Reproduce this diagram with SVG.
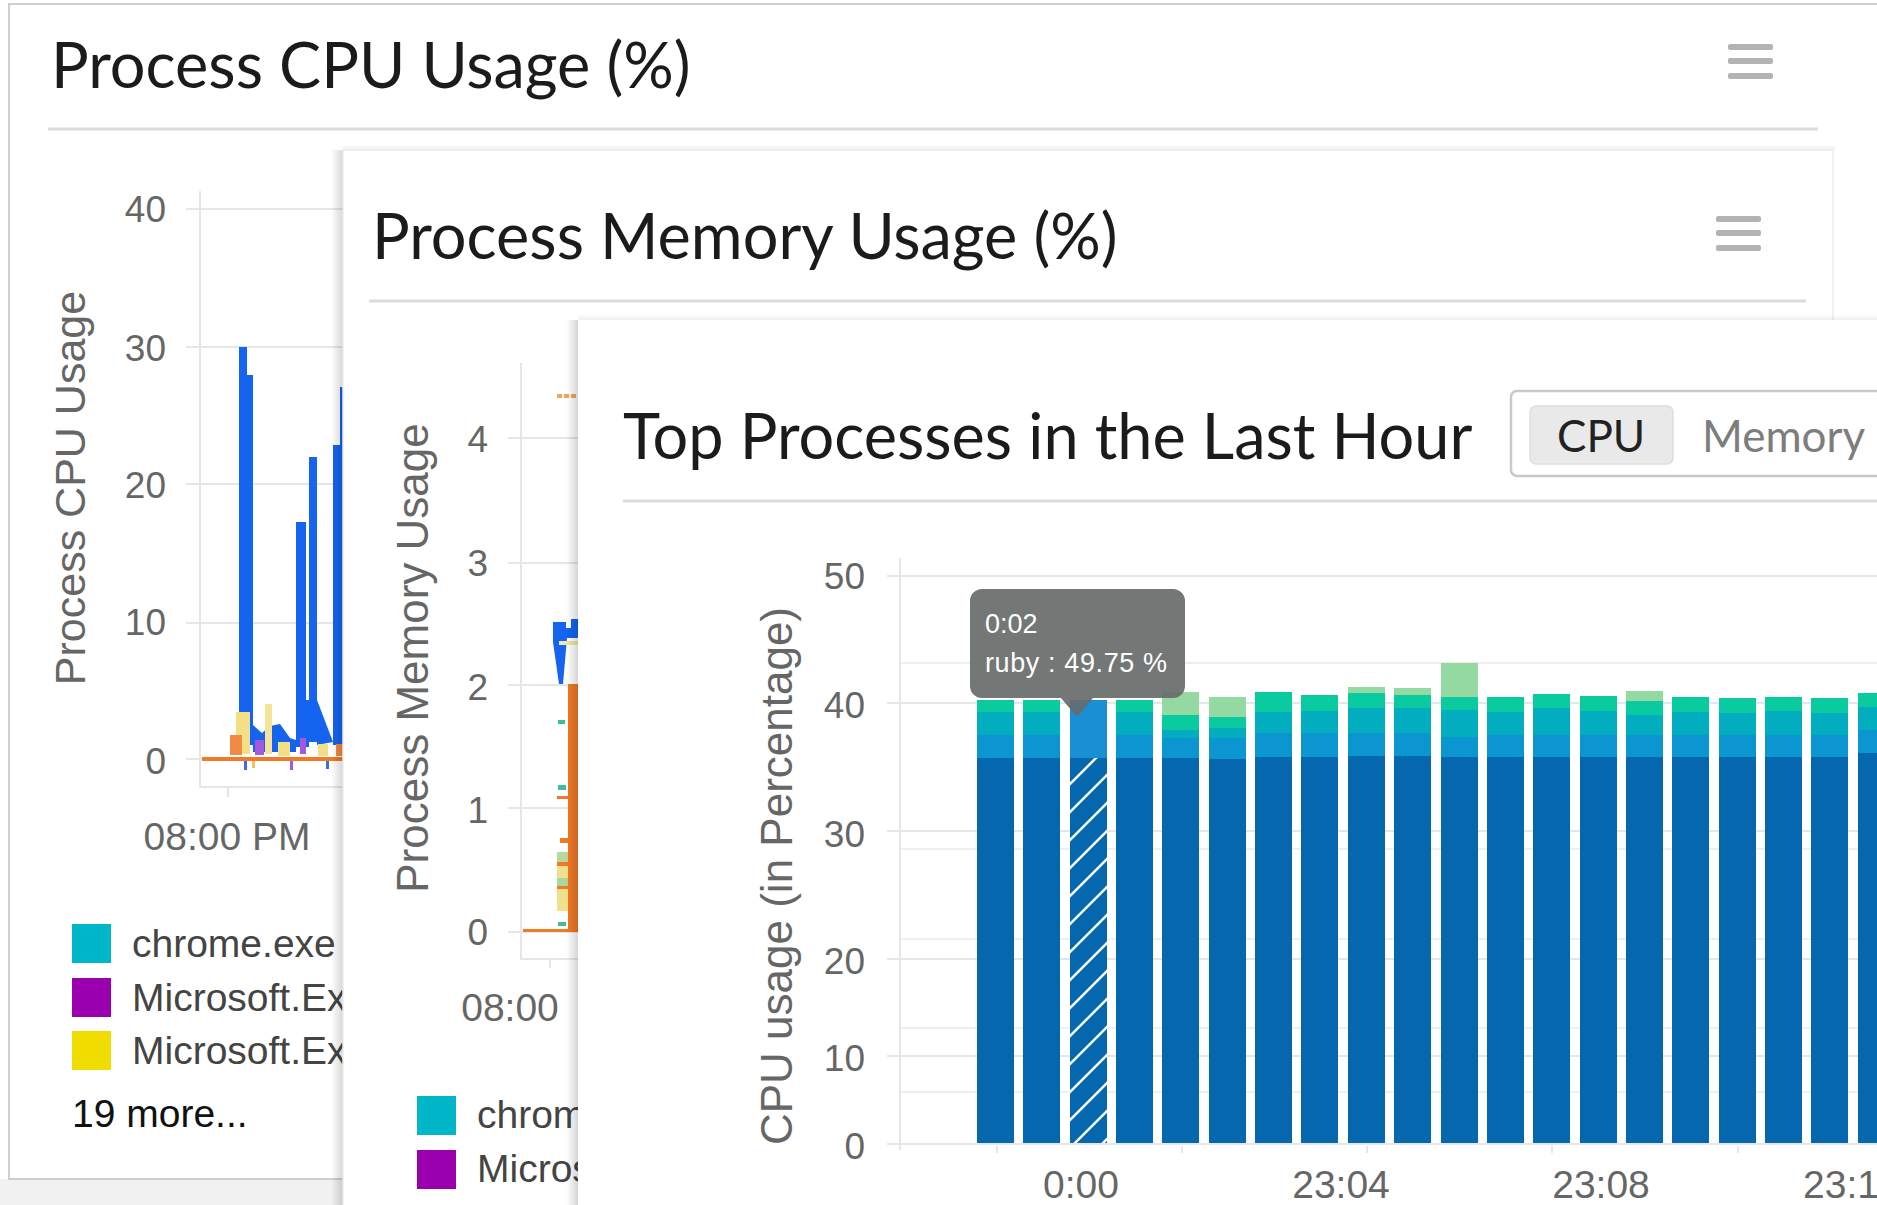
<svg xmlns="http://www.w3.org/2000/svg" width="1877" height="1205" viewBox="0 0 1877 1205">
<style>
.title{font-family:Lato,"Open Sans","Liberation Sans",sans-serif;font-size:63px;fill:#1b1b1b}
.ax{font-family:"Liberation Sans",Arial,sans-serif;font-size:37px;fill:#666}
.axt{font-family:"Liberation Sans",Arial,sans-serif;fill:#666}
.xl{font-family:"Liberation Sans",Arial,sans-serif;font-size:39px;fill:#666;text-anchor:middle}
.leg{font-family:"Liberation Sans",Arial,sans-serif;font-size:39px;fill:#444}
.grid{stroke:#e6e6e6;stroke-width:2;fill:none}
.faint{stroke:#efefef;stroke-width:2;fill:none}
.div{stroke:#dcdcdc;stroke-width:3}
.ham{fill:#b3b3b3}
.blue{fill:#1464f0}
.or{fill:#f07a26}
.dk{fill:#0567ad}
.md{fill:#0b95d1}
.tl{fill:#03adc0}
.gr{fill:#0acb9f}
.lg{fill:#95d9a2}
</style>
<defs>
<linearGradient id="shL" x1="0" y1="0" x2="1" y2="0">
<stop offset="0" stop-color="#000" stop-opacity="0"/>
<stop offset="1" stop-color="#000" stop-opacity="0.16"/>
</linearGradient>
<linearGradient id="shT" x1="0" y1="0" x2="0" y2="1">
<stop offset="0" stop-color="#000" stop-opacity="0"/>
<stop offset="1" stop-color="#000" stop-opacity="0.06"/>
</linearGradient>
<pattern id="hatch" patternUnits="userSpaceOnUse" x="1070" y="0" width="28" height="28">
<rect width="28" height="28" fill="#0567ad"/>
<path d="M0,28 L28,0 M-7,7 L7,-7 M21,35 L35,21" stroke="#ffffff" stroke-width="2.5"/>
</pattern>
</defs>

<rect width="1877" height="1205" fill="#ffffff"/>
<rect x="0" y="1179" width="343" height="26" fill="#f1f1f1"/>

<!-- Panel 1 -->
<g id="panel-cpu">
<rect x="9" y="4" width="1890" height="1175" fill="#fff" stroke="#cfcfcf" stroke-width="2"/>
<text class="title" x="51" y="88">Process CPU Usage (%)</text>
<g id="menu-cpu">
<rect class="ham" x="1728" y="44" width="45" height="6" rx="2"/>
<rect class="ham" x="1728" y="58" width="45" height="6" rx="2"/>
<rect class="ham" x="1728" y="73" width="45" height="6" rx="2"/>
</g>
<line class="div" x1="48" y1="129" x2="1818" y2="129"/>
<g id="cpu-chart">
<path class="grid" d="M186,209H1830M186,347H1830M186,484H1830M186,623H1830M186,759H1830"/>
<path class="grid" d="M200,191V787H343M228,787V797"/>
<g class="ax" text-anchor="end">
<text x="166" y="222">40</text>
<text x="166" y="361">30</text>
<text x="166" y="498">20</text>
<text x="166" y="635">10</text>
<text x="166" y="774">0</text>
</g>
<text class="axt" font-size="43" transform="translate(85,488) rotate(-90)" text-anchor="middle">Process CPU Usage</text>
<text class="xl" x="227" y="850" font-size="44">08:00 PM</text>
<g id="cpu-data">
<rect class="blue" x="239" y="347" width="8" height="400"/>
<rect class="blue" x="246" y="375" width="7" height="370"/>
<polygon class="blue" points="253,725 262,733 270,726 280,724 290,738 296,740 296,752 253,752"/>
<rect class="blue" x="296" y="522" width="10" height="225"/>
<rect class="blue" x="306" y="700" width="3" height="47"/>
<rect class="blue" x="309" y="457" width="8" height="285"/>
<polygon class="blue" points="317,700 333,742 317,745"/>
<rect class="blue" x="333" y="445" width="7" height="300"/>
<rect class="blue" x="340" y="387" width="3" height="360"/>
<rect x="236" y="712" width="14" height="42" fill="#f3df86"/>
<rect x="265" y="704" width="7" height="50" fill="#f5e39a"/>
<rect x="230" y="735" width="12" height="20" fill="#f08a45"/>
<rect x="255" y="740" width="9" height="15" fill="#a259dc"/>
<rect x="278" y="742" width="12" height="14" fill="#f3df86"/>
<rect x="300" y="738" width="6" height="16" fill="#a259dc"/>
<rect x="318" y="744" width="10" height="12" fill="#f3df86"/>
<rect x="336" y="744" width="7" height="12" fill="#f08a45"/>
<rect class="or" x="202" y="757" width="141" height="4"/>
<rect x="244" y="761" width="3" height="9" fill="#3a6fe0"/>
<rect x="252" y="761" width="3" height="7" fill="#f3c060"/>
<rect x="290" y="761" width="3" height="9" fill="#a259dc"/>
<rect x="326" y="761" width="3" height="8" fill="#3a6fe0"/>
</g>
<g id="cpu-legend">
<rect x="72" y="924" width="39" height="39" fill="#00b6c9"/>
<rect x="72" y="978" width="39" height="39" fill="#9a00ad"/>
<rect x="72" y="1031" width="39" height="39" fill="#f1dc00"/>
<text class="leg" x="132" y="957">chrome.exe</text>
<text class="leg" x="132" y="1011">Microsoft.Ex</text>
<text class="leg" x="132" y="1064">Microsoft.Ex</text>
<text class="leg" x="72" y="1127" style="fill:#111">19 more...</text>
</g>
</g>
</g>

<!-- Panel 2 -->
<g id="panel-memory">
<rect x="331" y="150" width="12" height="1055" fill="url(#shL)"/>
<rect x="343" y="144" width="1492" height="6" fill="url(#shT)"/>
<rect x="343" y="150" width="1490" height="1060" fill="#fff" stroke="#ececec" stroke-width="1.5"/>
<text class="title" x="372" y="259">Process Memory Usage (%)</text>
<g id="menu-memory">
<rect class="ham" x="1716" y="216" width="45" height="6" rx="2"/>
<rect class="ham" x="1716" y="230" width="45" height="6" rx="2"/>
<rect class="ham" x="1716" y="245" width="45" height="6" rx="2"/>
</g>
<line class="div" x1="369" y1="301" x2="1806" y2="301"/>
<g id="memory-chart">
<path class="grid" d="M508,438H1800M508,563H1800M508,685H1800M508,808H1800M508,932H1800"/>
<path class="grid" d="M521,363V959H578M550,959V968"/>
<g class="ax" text-anchor="end">
<text x="488" y="452">4</text>
<text x="488" y="576">3</text>
<text x="488" y="700">2</text>
<text x="488" y="823">1</text>
<text x="488" y="945">0</text>
</g>
<text class="axt" font-size="44" transform="translate(428,658) rotate(-90)" text-anchor="middle">Process Memory Usage</text>
<text class="xl" x="510" y="1021" font-size="45">08:00</text>
<g id="memory-data">
<line x1="557" y1="396" x2="579" y2="396" stroke="#f5a35e" stroke-width="4" stroke-dasharray="5,2"/>
<polygon class="blue" points="553,622 566,622 566,628 571,628 571,619 578,619 578,638 567,638 563,684 559,684 553,642"/>
<rect x="559" y="641" width="19" height="4" fill="#f1e6a6"/>
<rect class="or" x="568" y="684" width="10" height="247"/>
<rect x="558" y="720" width="7" height="4" fill="#3cbf9a"/>
<rect x="558" y="785" width="8" height="5" fill="#3cbf9a"/>
<rect class="or" x="557" y="796" width="21" height="3"/>
<rect class="or" x="560" y="838" width="18" height="5"/>
<rect x="557" y="852" width="11" height="10" fill="#b9d7a0"/>
<rect class="or" x="557" y="862" width="21" height="4"/>
<rect x="557" y="866" width="11" height="12" fill="#f1e18a"/>
<rect x="557" y="878" width="11" height="8" fill="#a8d8a0"/>
<rect class="or" x="557" y="886" width="21" height="3"/>
<rect x="557" y="889" width="11" height="22" fill="#f1e18a"/>
<rect x="558" y="922" width="8" height="4" fill="#3cbf9a"/>
<rect class="or" x="523" y="929" width="55" height="3"/>
</g>
<g id="memory-legend">
<rect x="417" y="1096" width="39" height="39" fill="#00b6c9"/>
<rect x="417" y="1150" width="39" height="39" fill="#9a00ad"/>
<text class="leg" x="477" y="1128">chrom</text>
<text class="leg" x="477" y="1182">Micros</text>
</g>
</g>
</g>

<!-- Panel 3 -->
<g id="panel-top">
<rect x="566" y="320" width="12" height="885" fill="url(#shL)"/>
<rect x="578" y="314" width="1300" height="6" fill="url(#shT)"/>
<rect x="578" y="320" width="1310" height="900" fill="#fff"/>
<text class="title" x="623" y="459">Top Processes in the Last Hour</text>
<g id="toggle">
<rect x="1511" y="391" width="380" height="85" rx="6" fill="#fff" stroke="#c9c9c9" stroke-width="2.5"/>
<rect x="1530" y="406" width="143" height="58" rx="6" fill="#e9e9e9" stroke="#dedede" stroke-width="1.5"/>
<text x="1557" y="452" font-family="Lato,'Open Sans',sans-serif" font-size="44" fill="#222">CPU</text>
<text x="1702" y="452" font-family="Lato,'Open Sans',sans-serif" font-size="44" fill="#7d7d7d">Memory</text>
</g>
<line class="div" x1="623" y1="501" x2="1877" y2="501"/>
<g id="top-chart">
<path class="grid" d="M887,576H1877M887,703H1877M887,831H1877M887,959H1877M887,1056H1877M887,1144H1877"/>
<path class="faint" d="M900,663H1877M900,849H1877M900,939H1877M900,1028H1877M900,1092H1877"/>
<path class="grid" d="M900,558V1150M997,1146V1153M1182,1146V1153M1367,1146V1153M1552,1146V1153M1738,1146V1153"/>
<g class="ax" text-anchor="end">
<text x="865" y="589">50</text>
<text x="865" y="718">40</text>
<text x="865" y="847">30</text>
<text x="865" y="974">20</text>
<text x="865" y="1071">10</text>
<text x="865" y="1159">0</text>
</g>
<text class="axt" font-size="44" transform="translate(792,876) rotate(-90)" text-anchor="middle">CPU usage (in Percentage)</text>
<g id="bars">
<rect class="gr" x="977" y="700" width="37" height="12"/><rect class="tl" x="977" y="712" width="37" height="23"/><rect class="md" x="977" y="735" width="37" height="23"/><rect class="dk" x="977" y="758" width="37" height="385"/>
<rect class="gr" x="1023" y="700" width="37" height="12"/><rect class="tl" x="1023" y="712" width="37" height="23"/><rect class="md" x="1023" y="735" width="37" height="23"/><rect class="dk" x="1023" y="758" width="37" height="385"/>
<rect x="1070" y="700" width="37" height="58" fill="#1a8fd4"/><rect x="1070" y="758" width="37" height="385" fill="url(#hatch)"/>
<rect class="gr" x="1116" y="700" width="37" height="12"/><rect class="tl" x="1116" y="712" width="37" height="23"/><rect class="md" x="1116" y="735" width="37" height="23"/><rect class="dk" x="1116" y="758" width="37" height="385"/>
<rect class="lg" x="1162" y="692" width="37" height="23"/><rect class="gr" x="1162" y="715" width="37" height="15"/><rect class="tl" x="1162" y="730" width="37" height="8"/><rect class="md" x="1162" y="738" width="37" height="20"/><rect class="dk" x="1162" y="758" width="37" height="385"/>
<rect class="lg" x="1209" y="697" width="37" height="20"/><rect class="gr" x="1209" y="717" width="37" height="11"/><rect class="tl" x="1209" y="728" width="37" height="10"/><rect class="md" x="1209" y="738" width="37" height="21"/><rect class="dk" x="1209" y="759" width="37" height="384"/>
<rect class="gr" x="1255" y="692" width="37" height="20"/><rect class="tl" x="1255" y="712" width="37" height="21"/><rect class="md" x="1255" y="733" width="37" height="24"/><rect class="dk" x="1255" y="757" width="37" height="386"/>
<rect class="gr" x="1301" y="695" width="37" height="16"/><rect class="tl" x="1301" y="711" width="37" height="22"/><rect class="md" x="1301" y="733" width="37" height="24"/><rect class="dk" x="1301" y="757" width="37" height="386"/>
<rect class="lg" x="1348" y="687" width="37" height="6"/><rect class="gr" x="1348" y="693" width="37" height="15"/><rect class="tl" x="1348" y="708" width="37" height="25"/><rect class="md" x="1348" y="733" width="37" height="23"/><rect class="dk" x="1348" y="756" width="37" height="387"/>
<rect class="lg" x="1394" y="688" width="37" height="7"/><rect class="gr" x="1394" y="695" width="37" height="13"/><rect class="tl" x="1394" y="708" width="37" height="25"/><rect class="md" x="1394" y="733" width="37" height="23"/><rect class="dk" x="1394" y="756" width="37" height="387"/>
<rect class="lg" x="1441" y="663" width="37" height="34"/><rect class="gr" x="1441" y="697" width="37" height="13"/><rect class="tl" x="1441" y="710" width="37" height="27"/><rect class="md" x="1441" y="737" width="37" height="20"/><rect class="dk" x="1441" y="757" width="37" height="386"/>
<rect class="gr" x="1487" y="697" width="37" height="15"/><rect class="tl" x="1487" y="712" width="37" height="23"/><rect class="md" x="1487" y="735" width="37" height="22"/><rect class="dk" x="1487" y="757" width="37" height="386"/>
<rect class="gr" x="1533" y="694" width="37" height="14"/><rect class="tl" x="1533" y="708" width="37" height="27"/><rect class="md" x="1533" y="735" width="37" height="22"/><rect class="dk" x="1533" y="757" width="37" height="386"/>
<rect class="gr" x="1580" y="696" width="37" height="15"/><rect class="tl" x="1580" y="711" width="37" height="24"/><rect class="md" x="1580" y="735" width="37" height="22"/><rect class="dk" x="1580" y="757" width="37" height="386"/>
<rect class="lg" x="1626" y="691" width="37" height="10"/><rect class="gr" x="1626" y="701" width="37" height="14"/><rect class="tl" x="1626" y="715" width="37" height="20"/><rect class="md" x="1626" y="735" width="37" height="22"/><rect class="dk" x="1626" y="757" width="37" height="386"/>
<rect class="gr" x="1672" y="697" width="37" height="15"/><rect class="tl" x="1672" y="712" width="37" height="23"/><rect class="md" x="1672" y="735" width="37" height="22"/><rect class="dk" x="1672" y="757" width="37" height="386"/>
<rect class="gr" x="1719" y="698" width="37" height="15"/><rect class="tl" x="1719" y="713" width="37" height="22"/><rect class="md" x="1719" y="735" width="37" height="22"/><rect class="dk" x="1719" y="757" width="37" height="386"/>
<rect class="gr" x="1765" y="697" width="37" height="14"/><rect class="tl" x="1765" y="711" width="37" height="24"/><rect class="md" x="1765" y="735" width="37" height="22"/><rect class="dk" x="1765" y="757" width="37" height="386"/>
<rect class="gr" x="1811" y="698" width="37" height="15"/><rect class="tl" x="1811" y="713" width="37" height="22"/><rect class="md" x="1811" y="735" width="37" height="22"/><rect class="dk" x="1811" y="757" width="37" height="386"/>
<rect class="gr" x="1858" y="693" width="37" height="14"/><rect class="tl" x="1858" y="707" width="37" height="23"/><rect class="md" x="1858" y="730" width="37" height="23"/><rect class="dk" x="1858" y="753" width="37" height="390"/>
</g>
<g id="x-labels">
<text class="xl" x="1081" y="1198">0:00</text>
<text class="xl" x="1341" y="1198">23:04</text>
<text class="xl" x="1601" y="1198">23:08</text>
<text class="xl" x="1803" y="1198" font-size="36" style="text-anchor:start">23:1</text>
</g>
<g id="tooltip">
<path d="M982,589H1173A12,12 0 0 1 1185,601V686A12,12 0 0 1 1173,698H1093L1077,717L1061,698H982A12,12 0 0 1 970,686V601A12,12 0 0 1 982,589Z" fill="#676b6a" fill-opacity="0.92"/>
<text x="985" y="633" font-family="'Liberation Sans',Arial,sans-serif" font-size="27" fill="#fff">0:02</text>
<text x="985" y="672" font-family="'Liberation Sans',Arial,sans-serif" font-size="27" fill="#fff" textLength="182" lengthAdjust="spacing">ruby : 49.75 %</text>
</g>
</g>
</g>
</svg>
